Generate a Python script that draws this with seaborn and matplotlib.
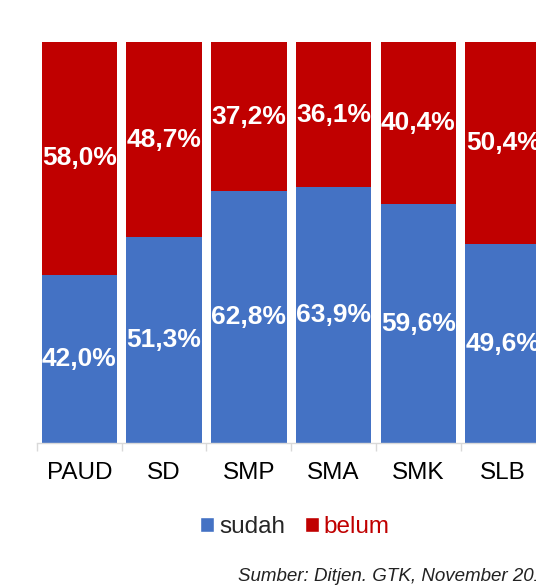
import pandas as pd
import matplotlib.pyplot as plt
import seaborn as sns
from matplotlib.patches import Patch

# Data
jenjang = ['PAUD', 'SD', 'SMP', 'SMA', 'SMK', 'SLB']
sudah = [42.0, 51.3, 62.8, 63.9, 59.6, 49.6]
belum = [58.0, 48.7, 37.2, 36.1, 40.4, 50.4]
sumber = 'Sumber: Ditjen. GTK, November 2017'

BLUE = '#4472C4'
RED = '#C00000'

sns.set_theme(style='white')
plt.rcParams['font.family'] = ['Liberation Sans', 'DejaVu Sans']

df = pd.DataFrame({'jenjang': jenjang, 'sudah': sudah, 'belum': belum})

fig = plt.figure(figsize=(5.36, 5.86), dpi=100)
# axes runs past the right edge, like the cropped original
ax = fig.add_axes([0.0688, 0.244, 0.949, 0.684])

sns.barplot(data=df, x='jenjang', y='sudah', color=BLUE, width=0.89,
            saturation=1, ax=ax, linewidth=0)
sns.barplot(data=df, x='jenjang', y='belum', bottom=df['sudah'], color=RED,
            width=0.89, saturation=1, ax=ax, linewidth=0)

fmt = lambda v: f'{v:.1f}%'.replace('.', ',')
ax.bar_label(ax.containers[0], labels=[fmt(v) for v in sudah], label_type='center',
             color='white', fontsize=19, fontweight='bold')
ax.bar_label(ax.containers[1], labels=[fmt(v) for v in belum], label_type='center',
             color='white', fontsize=19, fontweight='bold')

ax.set_xlim(-0.5, len(jenjang) - 0.5)
ax.set_ylim(0, 100)
ax.set_xlabel('')
ax.set_ylabel('')
ax.set_yticks([])
ax.set_xticks(range(len(jenjang)))
ax.set_xticklabels(jenjang, fontsize=17.5, color='black')
ax.set_xticks([i - 0.5 for i in range(len(jenjang) + 1)], minor=True)
ax.tick_params(axis='x', which='major', length=0, pad=14)
ax.tick_params(axis='x', which='minor', length=6, width=1, color='#D9D9D9', bottom=True)

for s in ['top', 'left', 'right']:
    ax.spines[s].set_visible(False)
ax.spines['bottom'].set_color('#D9D9D9')
ax.spines['bottom'].set_linewidth(1)

handles = [Patch(facecolor=BLUE, label='sudah'), Patch(facecolor=RED, label='belum')]
leg = fig.legend(handles=handles, loc='center', bbox_to_anchor=(0.55, 0.1), ncol=2,
                 frameon=False, fontsize=17.5, handlelength=0.58, handleheight=0.58,
                 handletextpad=0.2, columnspacing=0.8)
leg.get_texts()[1].set_color(RED)

fig.text(238 / 536, 0.0085, sumber, fontsize=13.5, style='italic', color='#222222',
         va='baseline', ha='left')

fig.savefig('out.png', dpi=100)
